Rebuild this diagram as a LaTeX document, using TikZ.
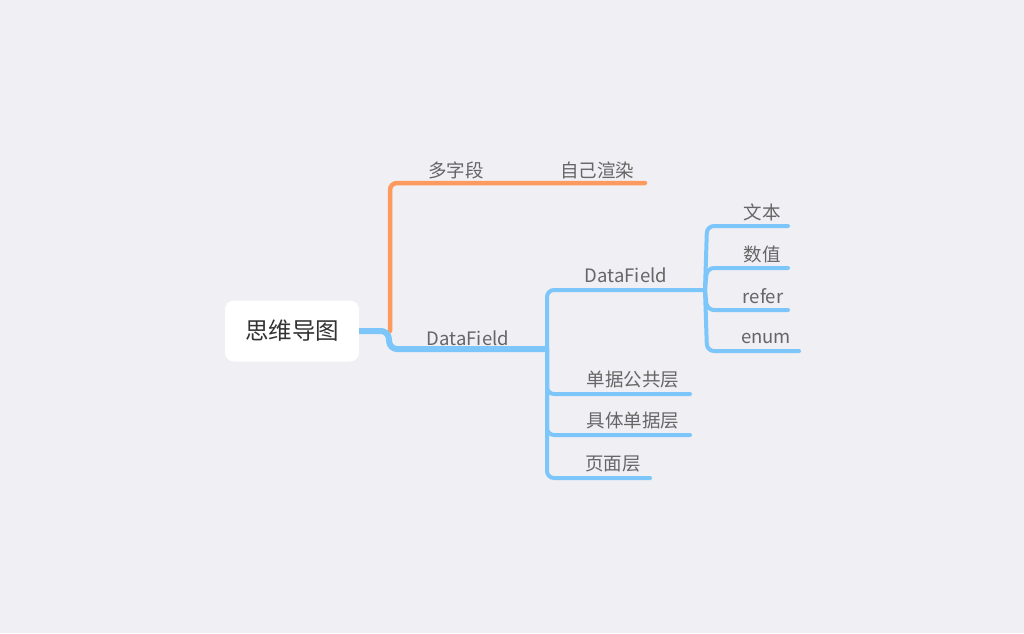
\documentclass[tikz,border=0pt]{standalone}
\usepackage{fontspec}
\setmainfont{Noto Sans CJK SC}
\definecolor{bg}{HTML}{EFEFF4}
\definecolor{bl}{HTML}{7CC6FA}
\definecolor{og}{HTML}{FF9A5E}
\definecolor{tx}{HTML}{666666}
\definecolor{rt}{HTML}{333333}
\begin{document}
\begin{tikzpicture}[x=1pt,y=-1pt,
  lbl/.style={text=tx,font=\fontsize{18.5}{20}\selectfont,inner sep=0pt},
  bline/.style={draw=bl,line width=4pt,line cap=round,rounded corners=7pt},
  oline/.style={draw=og,line width=4.5pt,line cap=round,rounded corners=7pt}]
\fill[bg] (0,0) rectangle (1024,633);
\useasboundingbox (0,0) rectangle (1024,633);
% root
\node[fill=white,rounded corners=9pt,minimum width=134pt,minimum height=61pt,inner sep=0pt,
  text=rt,font=\fontsize{23.5}{25}\selectfont] (root) at (292,331) {思维导图};
% level 1 labels
\node[lbl] (multi) at (456,170) {多字段};
\node[lbl] (self) at (597,170) {自己渲染};
\node[lbl] (df1) at (468,338) {DataField};
% level 2
\node[lbl] (df2) at (626,275) {DataField};
\node[lbl] (pub) at (633,380) {单据公共层};
\node[lbl] (spec) at (633,421) {具体单据层};
\node[lbl] (page) at (613,464) {页面层};
% level 3
\node[lbl] (wb) at (762,212) {文本};
\node[lbl] (sz) at (762,254) {数值};
\node[lbl] (rf) at (763,296) {refer};
\node[lbl] (en) at (766,338) {enum};
% coordinates
\coordinate (j1) at (390,331);
\coordinate (b1) at (547,349);
\coordinate (b2) at (705,290);
\coordinate (oend) at (645,183);
% orange branch
\draw[oline] (j1) -- (390,183) -- (oend);
% blue root link
\draw[draw=bl,line width=6pt,rounded corners=7pt] (root.east) -- (388,331) -- (390,349) -- (b1);
% second level
\draw[bline] (b1) -- (547,290) -- (b2);
\draw[bline] (b1) -- (547,394) -- (690,394);
\draw[bline] (b1) -- (547,435) -- (690,435);
\draw[bline] (b1) -- (547,478) -- (650,478);
% third level
\draw[bline] (b2) -- (707,226) -- (788,226);
\draw[bline] (b2) -- (707,268) -- (788,268);
\draw[bline] (b2) -- (707,310) -- (788,310);
\draw[bline] (b2) -- (707,351) -- (799,351);
\end{tikzpicture}
\end{document}
